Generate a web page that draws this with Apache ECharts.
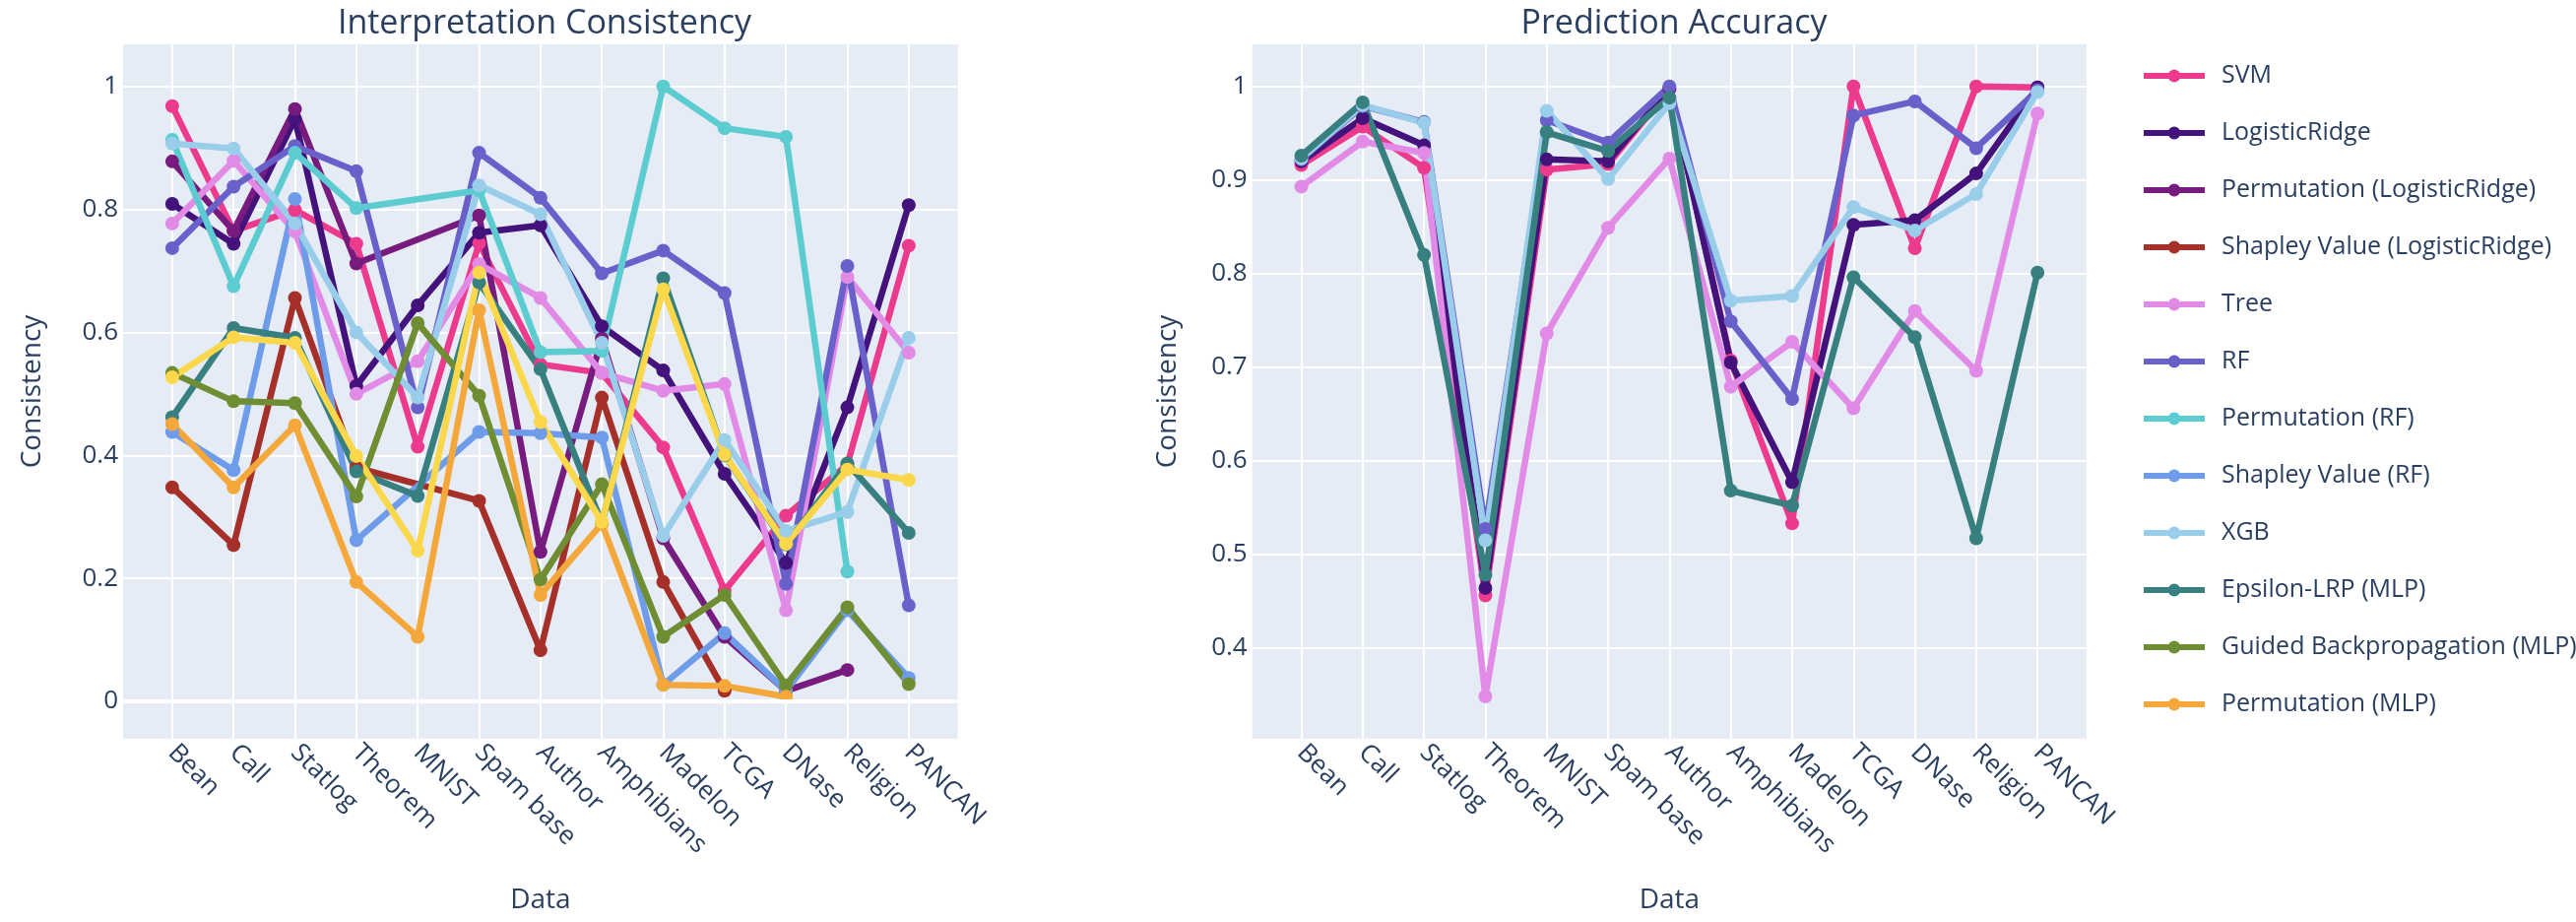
<!DOCTYPE html>
<html>
<head>
<meta charset="utf-8">
<script src="https://cdn.jsdelivr.net/npm/echarts@6/dist/echarts.min.js"></script>
<style>
  html, body { margin: 0; padding: 0; background: #ffffff; }
  #chart { width: 2616px; height: 936px; }
</style>
</head>
<body>
<div id="chart"></div>
<script>
// ---------- data ----------
const categories = ['Bean','Call','Statlog','Theorem','MNIST','Spam base','Author','Amphibians','Madelon','TCGA','DNase','Religion','PANCAN'];
const leftTicks = [0, 0.2, 0.4, 0.6, 0.8, 1];
const rightTicks = [0.4, 0.5, 0.6, 0.7, 0.8, 0.9, 1];

// Interpretation consistency (null = missing value, line is joined across it)
const consSVM      = [0.968, 0.765, 0.799, 0.744, 0.414, 0.745, 0.548, 0.534, 0.413, 0.180, 0.302, 0.385, 0.741];
const consLR       = [0.809, 0.744, 0.947, 0.513, 0.644, 0.762, 0.774, 0.610, 0.538, 0.370, 0.225, 0.478, 0.807];
const consPermLR   = [0.878, 0.765, 0.963, 0.712, null, 0.790, 0.243, 0.590, 0.265, 0.105, 0.017, 0.051, null];
const consShapLR   = [0.348, 0.254, 0.656, 0.380, null, 0.326, 0.083, 0.494, 0.194, 0.017, null, null, null];
const consTree     = [0.777, 0.879, 0.764, 0.500, 0.553, 0.711, 0.656, 0.534, 0.505, 0.516, 0.148, 0.690, 0.567];
const consRF       = [0.737, 0.837, 0.903, 0.862, 0.478, 0.892, 0.819, 0.696, 0.733, 0.664, 0.191, 0.708, 0.156];
const consPermRF   = [0.913, 0.675, 0.892, 0.802, null, 0.831, 0.568, 0.570, 1.000, 0.932, 0.918, 0.211, null];
const consShapRF   = [0.438, 0.376, 0.817, 0.262, null, 0.438, 0.436, 0.429, 0.027, 0.111, 0.017, 0.148, 0.038];
const consXGB      = [0.907, 0.899, 0.777, 0.600, 0.494, 0.839, 0.792, 0.583, 0.269, 0.425, 0.277, 0.308, 0.591];
const consEps      = [0.462, 0.607, 0.591, 0.374, 0.334, 0.681, 0.540, 0.290, 0.688, 0.400, 0.255, 0.387, 0.274];
const consGBP      = [0.534, 0.488, 0.485, 0.333, 0.615, 0.497, 0.198, 0.353, 0.105, 0.173, 0.026, 0.153, 0.028];
const consPermMLP  = [0.451, 0.348, 0.449, 0.194, 0.105, 0.636, 0.173, 0.289, 0.027, 0.025, 0.0075, null, null];
const consOtherMLP = [0.527, 0.592, 0.583, 0.399, 0.245, 0.697, 0.454, 0.292, 0.670, 0.401, 0.256, 0.377, 0.360];

// Prediction accuracy
const accSVM  = [0.916, 0.957, 0.913, 0.456, 0.911, 0.917, 0.997, 0.707, 0.533, 1.000, 0.827, 1.000, 0.999];
const accLR   = [0.920, 0.966, 0.937, 0.464, 0.922, 0.920, 0.998, 0.705, 0.577, 0.852, 0.857, 0.907, 0.999];
const accTree = [0.893, 0.941, 0.929, 0.348, 0.736, 0.849, 0.923, 0.679, 0.727, 0.656, 0.760, 0.696, 0.971];
const accRF   = [0.922, 0.979, 0.962, 0.527, 0.964, 0.940, 1.000, 0.749, 0.666, 0.969, 0.984, 0.934, 0.996];
const accXGB  = [0.923, 0.980, 0.961, 0.515, 0.974, 0.901, 0.982, 0.771, 0.776, 0.871, 0.846, 0.885, 0.994];
const accMLP  = [0.926, 0.983, 0.820, 0.478, 0.951, 0.931, 0.988, 0.568, 0.552, 0.796, 0.732, 0.517, 0.801];

// ---------- style ----------
const COL = {
  'SVM': '#EC3A8D',
  'LogisticRidge': '#44127B',
  'Permutation (LogisticRidge)': '#771B7E',
  'Shapley Value (LogisticRidge)': '#A5302A',
  'Tree': '#E18AE6',
  'RF': '#6A60C9',
  'Permutation (RF)': '#5CCCD1',
  'Shapley Value (RF)': '#6E9CE9',
  'XGB': '#9ACDEA',
  'Epsilon-LRP (MLP)': '#387F7F',
  'Guided Backpropagation (MLP)': '#6F8D32',
  'Permutation (MLP)': '#F4A83B',
  'Shapley Value (MLP)': '#FBD84B'
};
const TXT = '#2a3f5f';
const FONT = 'Open Sans';

function toPairs(arr) {
  return arr.map((v, i) => [i, v]).filter(d => d[1] !== null);
}
function mk(name, arr, idx) {
  return {
    name: name, type: 'line', xAxisIndex: idx, yAxisIndex: idx,
    data: toPairs(arr),
    symbol: 'circle', symbolSize: 14, showSymbol: true,
    lineStyle: { width: 6.5, color: COL[name], join: 'round' },
    itemStyle: { color: COL[name] },
    emphasis: { disabled: true },
    animation: false
  };
}

const leftSeries = [
  ['SVM', consSVM], ['LogisticRidge', consLR], ['Permutation (LogisticRidge)', consPermLR],
  ['Shapley Value (LogisticRidge)', consShapLR], ['Tree', consTree], ['RF', consRF],
  ['Permutation (RF)', consPermRF], ['Shapley Value (RF)', consShapRF], ['XGB', consXGB],
  ['Epsilon-LRP (MLP)', consEps], ['Guided Backpropagation (MLP)', consGBP],
  ['Permutation (MLP)', consPermMLP], ['Shapley Value (MLP)', consOtherMLP]
].map(s => mk(s[0], s[1], 0));

const rightSeries = [
  ['SVM', accSVM], ['LogisticRidge', accLR], ['Tree', accTree], ['RF', accRF],
  ['XGB', accXGB], ['Epsilon-LRP (MLP)', accMLP]
].map(s => mk(s[0], s[1], 1));

// zero line (thicker white line at y = 0)
const zeroLine = {
  name: 'zeroline', type: 'line', xAxisIndex: 0, yAxisIndex: 0, data: [], z: 1,
  markLine: { silent: true, symbol: 'none', label: { show: false },
    lineStyle: { color: '#ffffff', width: 4, type: 'solid' }, data: [{ yAxis: 0 }] }
};

const legendNames = ['SVM','LogisticRidge','Permutation (LogisticRidge)','Shapley Value (LogisticRidge)',
  'Tree','RF','Permutation (RF)','Shapley Value (RF)','XGB','Epsilon-LRP (MLP)',
  'Guided Backpropagation (MLP)','Permutation (MLP)'];

function xAxisDef(idx) {
  return {
    type: 'value', gridIndex: idx, min: -0.8, max: 12.8,
    name: 'Data', nameLocation: 'middle', nameGap: 150,
    nameTextStyle: { fontSize: 28, color: TXT, fontFamily: FONT },
    axisLine: { show: false }, axisTick: { show: false, customValues: categories.map((c, i) => i) },
    axisLabel: { customValues: categories.map((c, i) => i), formatter: v => categories[Math.round(v)],
      rotate: -45, fontSize: 26, color: TXT, fontFamily: FONT, margin: 10 },
    splitLine: { show: true, lineStyle: { color: '#ffffff', width: 2 } }
  };
}
function yAxisDef(idx, min, max, ticks, gap) {
  return {
    type: 'value', gridIndex: idx, min: min, max: max,
    name: 'Consistency', nameLocation: 'middle', nameGap: gap,
    nameTextStyle: { fontSize: 28, color: TXT, fontFamily: FONT },
    axisLine: { show: false }, axisTick: { show: false, customValues: ticks },
    axisLabel: { customValues: ticks, fontSize: 26, color: TXT, fontFamily: FONT, margin: 5 },
    splitLine: { show: true, lineStyle: { color: '#ffffff', width: 2 } }
  };
}

const option = {
  backgroundColor: '#ffffff',
  animation: false,
  textStyle: { fontFamily: FONT },
  title: [
    { text: 'Interpretation Consistency', left: 548, top: 2, textAlign: 'center',
      textStyle: { fontSize: 34, fontWeight: 'normal', color: TXT, fontFamily: FONT } },
    { text: 'Prediction Accuracy', left: 1695, top: 2, textAlign: 'center',
      textStyle: { fontSize: 34, fontWeight: 'normal', color: TXT, fontFamily: FONT } }
  ],
  legend: {
    data: legendNames, orient: 'vertical', left: 2169, top: 57,
    itemWidth: 62, itemHeight: 16, itemGap: 28,
    lineStyle: { width: 6 },
    textStyle: { fontSize: 25, color: TXT, fontFamily: FONT, lineHeight: 30, padding: [0, 0, 0, 12] },
    selectedMode: false
  },
  grid: [
    { left: 125, top: 45, width: 847.7, height: 705, show: true, backgroundColor: '#E5ECF6', borderWidth: 0 },
    { left: 1271.7, top: 45, width: 847.3, height: 705, show: true, backgroundColor: '#E5ECF6', borderWidth: 0 }
  ],
  xAxis: [xAxisDef(0), xAxisDef(1)],
  yAxis: [yAxisDef(0, -0.0609, 1.0684, leftTicks, 78), yAxisDef(1, 0.3028, 1.045, rightTicks, 72)],
  series: [zeroLine].concat(leftSeries, rightSeries)
};

const chart = echarts.init(document.getElementById('chart'), null, { renderer: 'canvas' });
chart.setOption(option);
</script>
</body>
</html>
